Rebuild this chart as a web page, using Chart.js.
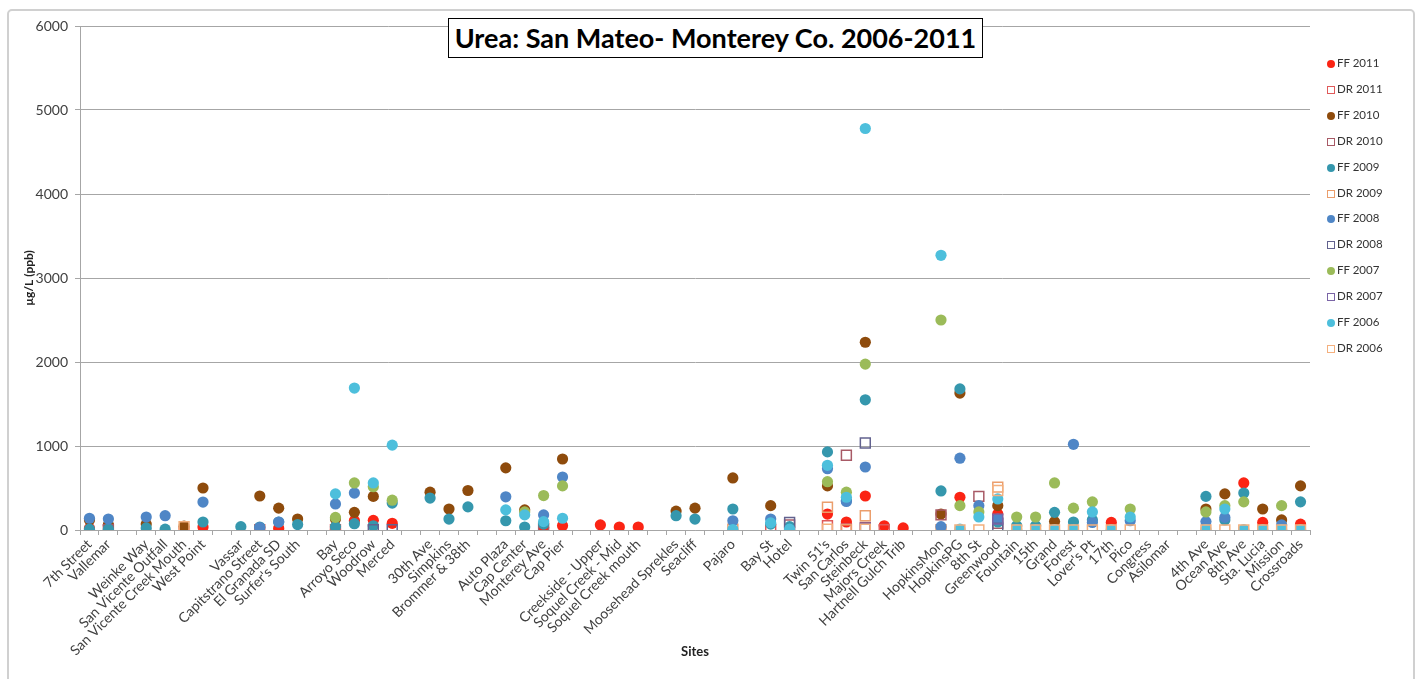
<!DOCTYPE html>
<html>
<head>
<meta charset="utf-8">
<script src="https://cdn.jsdelivr.net/npm/chart.js@4.4.1/dist/chart.umd.min.js"></script>
<style>
    html, body { margin: 0; padding: 0; background: #fff; }
    #wrap { position: relative; width: 1424px; height: 679px; overflow: hidden; font-family: Lato, "Liberation Sans", sans-serif; }
    #frame { position: absolute; left: 7px; top: 9px; width: 1404px; height: 690px; border: 2px solid #d0d0d0; border-radius: 5px; }
    #chart { position: absolute; left: 0; top: 0; }
    #title { position: absolute; left: 448px; top: 18px; width: 533px; height: 38px; border: 1px solid #000; background: #fff;
             font-weight: bold; font-size: 27px; line-height: 38px; text-align: center; color: #000; white-space: nowrap; }
    .item { position: absolute; left: 1327px; height: 14px; font-size: 11.5px; line-height: 14px; color: #333; white-space: nowrap; }
    .mk { display: inline-block; width: 8px; height: 8px; margin-right: 2px; vertical-align: -1px; box-sizing: border-box; }
</style>
</head>
<body>
<div id="wrap">
    <div id="frame"></div>
    <canvas id="chart" width="1424" height="679"></canvas>
    <div id="title">Urea: San Mateo- Monterey Co. 2006-2011</div>
    <div id="legend"></div>
</div>
<script>
const N = null

// sites along the x axis ("" = empty slot between site groups)
const sites = [
    "7th Street", "Vallemar", "", "Weinke Way", "San Vicente Outfall", "San Vicente Creek Mouth", "West Point", "", "Vassar", "Capitstrano Street", "El Granada SD", "Surfer's South", "",
    "Bay", "Arroyo Seco", "Woodrow", "Merced", "", "30th Ave", "Simpkins", "Brommer & 38th", "", "Auto Plaza", "Cap Center", "Monterey Ave", "Cap Pier",
    "", "Creekside - Upper", "Soquel Creek - Mid", "Soquel Creek mouth", "", "Moosehead Sprekles", "Seacliff", "", "Pajaro", "", "Bay St", "Hotel", "",
    "Twin 51's", "San Carlos", "Steinbeck", "Majors Creek", "Hartnell Gulch Trib", "", "HopkinsMon", "HopkinsPG", "8th St", "Greenwood", "Fountain", "15th", "Grand",
    "Forest", "Lover's Pt", "17th", "Pico", "Congress", "Asilomar", "", "4th Ave", "Ocean Ave", "8th Ave", "Sta. Lucia", "Mission", "Crossroads"
]

const ff2011 = [
    20, 50, N, N, N, 20, 35, N, N, N, 20, N, N,
    5, 110, 115, 80, N, N, N, N, N, N, N, 30, 50,
    N, 60, 35, 35, N, N, N, N, N, N, N, N, N,
    190, 95, 405, 50, 25, N, N, 390, N, 190, N, N, N,
    N, N, 90, N, N, N, N, N, N, 560, 90, N, 70
]
const dr2011 = [
    N, N, N, N, N, N, N, N, N, 5, N, N, N,
    5, N, N, N, N, N, N, N, N, N, N, N, N,
    N, N, N, N, N, N, N, N, N, N, 5, N, N,
    50, 15, N, 5, N, N, N, N, N, N, N, N, N,
    N, N, N, N, N, N, N, N, N, N, N, N, N
]
const ff2010 = [
    120, 60, N, 70, N, 45, 500, N, N, 405, 260, 130, N,
    130, 210, 400, N, N, 450, 250, 470, N, 740, 240, N, 845,
    N, N, N, N, N, 225, 260, N, 620, N, 290, N, N,
    525, N, 2235, N, N, N, 190, 1630, N, 290, N, N, 100,
    N, N, N, N, N, N, N, 250, 430, N, 250, 120, 525
]
const dr2010 = [
    N, 5, N, N, N, N, N, N, N, N, N, N, N,
    N, N, N, N, N, N, N, N, N, N, N, 20, N,
    N, N, N, N, N, N, N, N, N, N, N, 60, N,
    N, 890, 30, N, N, N, 180, N, 400, 80, N, N, N,
    N, N, N, N, N, N, N, N, N, N, N, N, N
]
const ff2009 = [
    10, 10, N, 25, 10, N, 95, N, 40, 35, 95, 65, N,
    40, 75, 50, 320, N, 380, 130, 275, N, 110, 35, 70, N,
    N, N, N, N, N, 170, 130, N, 250, N, 70, 40, N,
    930, 350, 1550, N, N, N, 465, 1680, N, 95, 50, 50, 210,
    95, 120, N, N, N, N, N, 400, 120, 440, N, N, 335
]
const dr2009 = [
    N, N, N, N, N, N, N, N, N, N, N, N, N,
    N, N, N, N, N, N, N, N, N, N, N, N, N,
    N, N, N, N, N, N, N, N, 10, N, N, N, N,
    270, 5, 170, N, N, N, 5, N, N, 510, N, N, N,
    N, N, N, N, N, N, N, N, N, N, N, N, N
]
const ff2008 = [
    140, 130, N, 155, 170, N, 333, N, N, 30, 95, N, N,
    310, 440, N, N, N, N, N, N, N, 395, N, 180, 630,
    N, N, N, N, N, N, N, N, 110, N, 130, N, N,
    730, 340, 750, N, N, N, 40, 855, 290, 130, N, N, N,
    1020, 90, N, 110, N, N, N, 100, 150, N, N, 60, N
]
const dr2008 = [
    N, N, N, N, N, N, N, N, N, N, N, N, N,
    N, N, 5, 5, N, N, N, N, N, N, N, N, N,
    N, N, N, N, N, N, N, N, N, N, N, 90, N,
    N, N, 1035, N, N, N, N, N, N, 20, N, N, N,
    N, N, N, N, N, N, N, N, N, N, N, N, N
]
const ff2007 = [
    N, N, N, N, N, N, N, N, N, N, N, N, N,
    150, 560, 515, 355, N, N, N, N, N, N, 215, 410, 525,
    N, N, N, N, N, N, N, N, N, N, N, N, N,
    575, 450, 1975, N, N, N, 2500, 290, 215, N, 155, 155, 560,
    260, 335, N, 250, N, N, N, 215, 290, 335, N, 290, N
]
const dr2007 = [
    N, N, N, N, N, N, N, N, N, N, N, N, N,
    N, N, N, N, N, N, N, N, N, N, N, N, N,
    N, N, N, N, N, N, N, N, N, N, N, N, N,
    N, N, 20, N, N, N, N, N, N, 130, N, N, N,
    N, N, N, N, N, N, N, N, N, N, N, N, N
]
const ff2006 = [
    N, N, N, N, N, N, N, N, N, N, N, N, N,
    430, 1690, 560, 1010, N, N, N, N, N, 240, 180, 100, 140,
    N, N, N, N, N, N, N, N, 5, N, 85, 10, N,
    770, 390, 4780, N, N, N, 3270, 10, 155, 370, 5, 5, 5,
    5, 215, 5, 155, N, N, N, 5, 250, 5, 5, 5, 5
]
const dr2006 = [
    N, N, N, N, N, 40, N, N, N, N, N, N, N,
    N, N, N, N, N, N, N, N, N, N, N, N, N,
    N, N, N, N, N, N, N, N, N, N, N, N, N,
    10, N, 10, N, N, N, N, 0, 0, 470, 0, 0, 0,
    0, 0, 0, 0, N, N, N, 0, 0, 0, 0, 0, 0
]

const yTicks = [0, 1000, 2000, 3000, 4000, 5000, 6000]

const series = [
    { label: "FF 2011", data: ff2011, color: "#fb2414", dr: false },
    { label: "DR 2011", data: dr2011, color: "#e05a5a", dr: true },
    { label: "FF 2010", data: ff2010, color: "#8e4b0c", dr: false },
    { label: "DR 2010", data: dr2010, color: "#a85a66", dr: true },
    { label: "FF 2009", data: ff2009, color: "#3597ad", dr: false },
    { label: "DR 2009", data: dr2009, color: "#eb9e6c", dr: true },
    { label: "FF 2008", data: ff2008, color: "#4f86c6", dr: false },
    { label: "DR 2008", data: dr2008, color: "#62628f", dr: true },
    { label: "FF 2007", data: ff2007, color: "#9bbb59", dr: false },
    { label: "DR 2007", data: dr2007, color: "#7a64a6", dr: true },
    { label: "FF 2006", data: ff2006, color: "#4dbfdc", dr: false },
    { label: "DR 2006", data: dr2006, color: "#f4b07e", dr: true }
]

const datasets = series.map((s, i) => ({
    label: s.label,
    data: s.data,
    showLine: false,
    order: series.length - i,
    pointStyle: s.dr ? "rect" : "circle",
    pointRadius: s.dr ? 7 : 5.6,
    pointBorderWidth: s.dr ? 1.5 : 0,
    pointBorderColor: s.color,
    pointBackgroundColor: s.dr ? "rgba(255,255,255,0)" : s.color,
    borderColor: s.color,
    backgroundColor: s.color
}))

const font = "Lato, 'Liberation Sans', sans-serif"

new Chart(document.getElementById("chart"), {
    type: "line",
    data: { labels: sites, datasets },
    options: {
        responsive: false,
        animation: false,
        events: [],
        layout: { padding: { top: 26, right: 114, left: 0, bottom: 0 } },
        plugins: { legend: { display: false }, tooltip: { enabled: false } },
        scales: {
            x: {
                offset: true,
                afterFit: (scale) => { scale.height = 149 },
                grid: { offset: true, drawOnChartArea: false, drawTicks: true, tickLength: 5, color: "#a6a6a6" },
                border: { color: "#a6a6a6" },
                ticks: { autoSkip: false, minRotation: 45, maxRotation: 45, padding: 1, color: "#404040", font: { family: font, size: 14 } },
                title: { display: true, text: "Sites", color: "#222", padding: { top: 4, bottom: 19 }, font: { family: font, size: 13, weight: "bold" } }
            },
            y: {
                min: 0,
                max: 6000,
                afterFit: (scale) => { scale.width = 80 },
                afterBuildTicks: (scale) => { scale.ticks = yTicks.map(v => ({ value: v })) },
                grid: { color: "#a6a6a6", tickLength: 5 },
                border: { color: "#a6a6a6" },
                ticks: { padding: 7, color: "#404040", font: { family: font, size: 14 }, callback: (v) => String(v) },
                title: { display: true, text: "µg/L (ppb)", color: "#222", padding: { top: 22, bottom: 0 }, font: { family: font, size: 12, weight: "bold" } }
            }
        }
    }
})

// legend at the right, one row per series
const legend = document.getElementById("legend")
series.forEach((s, i) => {
    const row = document.createElement("div")
    row.className = "item"
    row.style.top = (56 + i * 25.9) + "px"
    const mk = document.createElement("span")
    mk.className = "mk"
    if (s.dr) {
        mk.style.border = "1.5px solid " + s.color
    } else {
        mk.style.background = s.color
        mk.style.borderRadius = "50%"
    }
    row.appendChild(mk)
    row.appendChild(document.createTextNode(s.label))
    legend.appendChild(row)
})
</script>
</body>
</html>
